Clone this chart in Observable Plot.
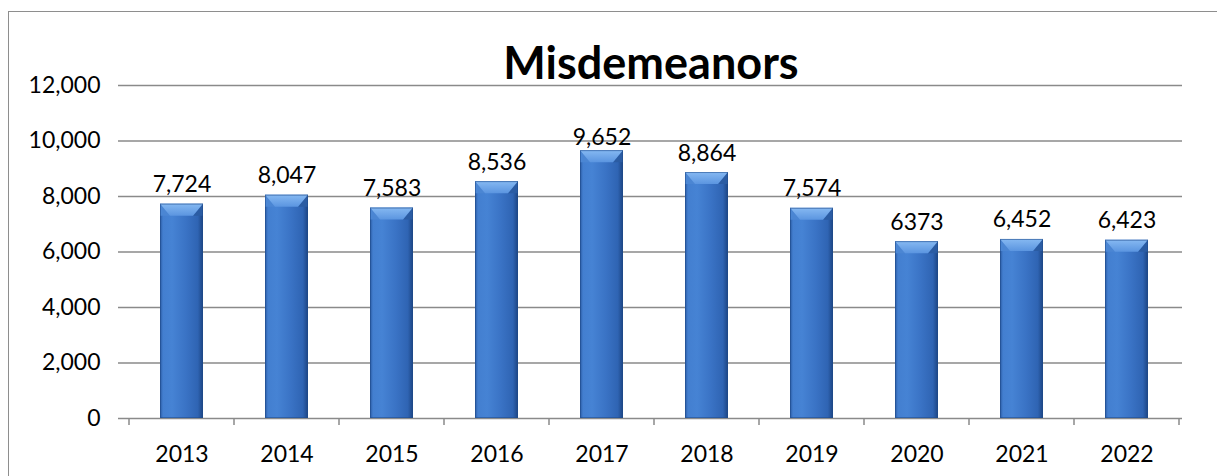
<!DOCTYPE html>
<html>
<head>
<meta charset="utf-8">
<script src="https://cdn.jsdelivr.net/npm/d3@7"></script>
<script src="https://cdn.jsdelivr.net/npm/@observablehq/plot@0.6"></script>
<style>
  html, body { margin: 0; padding: 0; background: #fff; overflow: hidden; }
  #wrap { position: relative; width: 1217px; height: 476px; }
  #border { position: absolute; left: 8px; top: 11px; width: 1300px; height: 600px; border: 1.5px solid #8e8e8e; box-sizing: border-box; }
  #title { position: absolute; left: 123px; width: 1056px; top: 40px; text-align: center;
           font-family: Lato, sans-serif; font-weight: 700; font-size: 45px; line-height: 45px; color: #000; }
  #chart { position: absolute; left: 0; top: 0; }
</style>
</head>
<body>
<div id="wrap">
  <div id="border"></div>
  <div id="chart"></div>
  <div id="title">Misdemeanors</div>
</div>
<script>
const years = ["2013","2014","2015","2016","2017","2018","2019","2020","2021","2022"];
const values = [7724, 8047, 7583, 8536, 9652, 8864, 7574, 6373, 6452, 6423];
const valueLabels = ["7,724","8,047","7,583","8,536","9,652","8,864","7,574","6373","6,452","6,423"];
const yTicks = [0, 2000, 4000, 6000, 8000, 10000, 12000];

const data = years.map((year, i) => ({year, value: values[i], label: valueLabels[i]}));
const maxValue = d3.max(values);

const W = 1217, H = 476;
const gridColor = "#8a8a8a";
const font = "Lato, sans-serif";
const fs = 23;

const bevelRender = (index, scales, vals, dims, ctx, next) => {
  const g = next(index, scales, vals, dims, ctx);
  const sel = d3.select(g);
  const rects = sel.selectAll("rect").nodes();
  for (const r of rects) {
    const x = +r.getAttribute("x"), y = +r.getAttribute("y");
    const w = +r.getAttribute("width"), h = +r.getAttribute("height");
    const b = Math.min(12, h);
    const bx = 10;
    sel.append("polygon").attr("points", `${x},${y} ${x+bx},${y+b} ${x},${y+b}`).attr("fill", "#4b86d3");
    sel.append("polygon").attr("points", `${x+w},${y} ${x+w-bx},${y+b} ${x+w},${y+b}`).attr("fill", "#2b5ca3");
    sel.append("polygon").attr("points", `${x},${y} ${x+w},${y} ${x+w-bx},${y+b} ${x+bx},${y+b}`).attr("fill", "url(#topGrad)");
    sel.append("rect").attr("x", x+0.5).attr("y", y+0.5).attr("width", w-1).attr("height", h-1)
      .attr("fill", "none").attr("stroke", "#1f4a8a").attr("stroke-opacity", 0.55).attr("stroke-width", 1);
  }
  return g;
};

function boundaryTicks(index, scales, vals, dims) {
  const xs = scales.x;
  const step = xs.step();
  const bw = xs.bandwidth();
  const yb = dims.height - dims.marginBottom;
  const g = d3.create("svg:g");
  const pos = years.map(y => xs(y) + bw / 2 - step / 2);
  pos.push(xs(years[years.length - 1]) + bw / 2 + step / 2);
  for (const p of pos) {
    g.append("line").attr("x1", p).attr("x2", p).attr("y1", yb).attr("y2", yb + 7)
      .attr("stroke", gridColor).attr("stroke-width", 1.5);
  }
  return g.node();
}

const chart = Plot.plot({
  width: W,
  height: H,
  marginLeft: 126,
  marginRight: 35,
  marginTop: 85,
  marginBottom: 58,
  style: { fontFamily: font, fontSize: fs + "px", color: "#000", background: "transparent" },
  x: { domain: years, paddingInner: 0.59, paddingOuter: 0.295, label: null },
  y: { domain: [0, 12000], label: null },
  marks: [
    Plot.ruleY(yTicks, { stroke: gridColor, strokeWidth: 1.5, insetLeft: -8, strokeOpacity: 1 }),
    Plot.ruleX([0], { frameAnchor: "left", stroke: gridColor, strokeWidth: 1.5 }),
    Plot.axisY({ ticks: yTicks, tickSize: 0, tickPadding: 26, tickFormat: d3.format(","), fontSize: fs, fill: "#000" }),
    Plot.axisX({ tickSize: 0, tickPadding: 27, fontSize: fs, fill: "#000" }),
    boundaryTicks,
    Plot.barY(data, { x: "year", y: "value", fill: "url(#barGrad)", render: bevelRender }),
    Plot.text(data, { filter: d => d.value !== maxValue, x: "year", y: "value", text: "label", lineAnchor: "bottom", dy: -12, fontSize: fs, fill: "#000" }),
    Plot.text(data, { filter: d => d.value === maxValue, x: "year", y: "value", text: "label", lineAnchor: "bottom", dy: -6, fontSize: fs, fill: "#000" })
  ]
});

document.getElementById("chart").appendChild(chart);

const svg = d3.select(chart);
const defs = svg.insert("defs", ":first-child");
const bg = defs.append("linearGradient").attr("id", "barGrad").attr("x1", 0).attr("x2", 1).attr("y1", 0).attr("y2", 0);
[["0%", "#2a5aa2"], ["7%", "#437fd0"], ["28%", "#4683d4"], ["60%", "#3a73c5"], ["88%", "#2f64b3"], ["100%", "#1c4482"]]
  .forEach(([o, c]) => bg.append("stop").attr("offset", o).attr("stop-color", c));
const tg = defs.append("linearGradient").attr("id", "topGrad").attr("x1", 0).attr("x2", 0).attr("y1", 0).attr("y2", 1);
[["0%", "#86b9f2"], ["100%", "#5b95e0"]].forEach(([o, c]) => tg.append("stop").attr("offset", o).attr("stop-color", c));
</script>
</body>
</html>
